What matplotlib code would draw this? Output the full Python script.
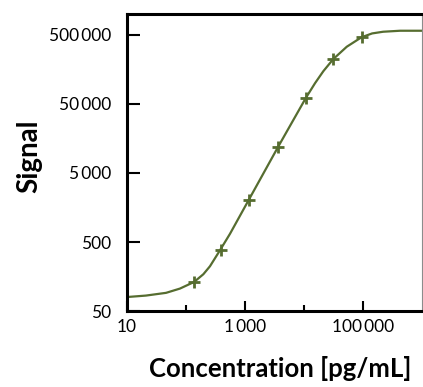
import numpy as np
import matplotlib

matplotlib.use("Agg")
import matplotlib.pyplot as plt
from matplotlib.ticker import FixedLocator, NullFormatter

plt.rcParams["font.family"] = ["Lato", "DejaVu Sans"]

# measured standards (concentration pg/mL, signal)
conc = [137, 387, 1155, 3660, 10800, 31400, 97000]
signal = [132, 380, 2000, 11800, 61000, 222000, 463000]

# fitted standard curve
curve_conc = [10, 21, 46, 79, 137, 197, 255, 377, 557, 1146, 3625, 10810,
              15360, 21240, 31370, 52930, 94320, 142100, 218300, 423800, 1000000]
curve_signal = [80, 84, 92, 106, 132, 171, 223, 380, 658, 2005, 11870, 61560,
                99650, 148600, 222900, 335400, 460200, 522200, 552400, 571200, 571200]

y_ticks = [50, 500, 5000, 50000, 500000]
y_labels = ["50", "500", "5\u2009000", "50\u2009000", "500\u2009000"]
x_major = [10, 1000, 100000]
x_labels = ["10", "1\u2009000", "100\u2009000"]
x_minor = [100, 10000]

GREEN = "#566d30"

fig = plt.figure(figsize=(4.23, 3.87), dpi=100)
ax = fig.add_axes([0.300, 0.196, 0.698, 0.768])

ax.plot(curve_conc, curve_signal, color=GREEN, lw=1.6, solid_joinstyle="round")
ax.plot(conc, signal, ls="none", marker="+", ms=8.5, mew=2.0, color=GREEN)

ax.set_xscale("log")
ax.set_yscale("log")
ax.set_xlim(10, 1e6)
ax.set_ylim(50, 1e6)

ax.yaxis.set_major_locator(FixedLocator(y_ticks))
ax.set_yticklabels(y_labels)
ax.yaxis.set_minor_locator(FixedLocator([]))
ax.xaxis.set_major_locator(FixedLocator(x_major))
ax.set_xticklabels(x_labels)
ax.xaxis.set_minor_locator(FixedLocator(x_minor))
ax.xaxis.set_minor_formatter(NullFormatter())

ax.tick_params(axis="y", which="major", direction="in", length=9, width=1.5,
               labelsize=12.5, pad=11)
ax.tick_params(axis="x", which="major", direction="in", length=7, width=1.5,
               labelsize=12.5, pad=6)
ax.tick_params(axis="x", which="minor", direction="in", length=4.5, width=1.5)

for side in ("left", "bottom", "top"):
    ax.spines[side].set_linewidth(2.2)
ax.spines["right"].set_linewidth(0.8)
ax.spines["right"].set_color("0.55")

ax.set_xlabel("Concentration [pg/mL]", fontsize=18.5, fontweight="bold")
ax.set_ylabel("Signal", fontsize=20, fontweight="bold")
ax.xaxis.set_label_coords(0.52, -0.15)
ax.yaxis.set_label_coords(-0.285, 0.52)

fig.savefig("out.png", dpi=100)
